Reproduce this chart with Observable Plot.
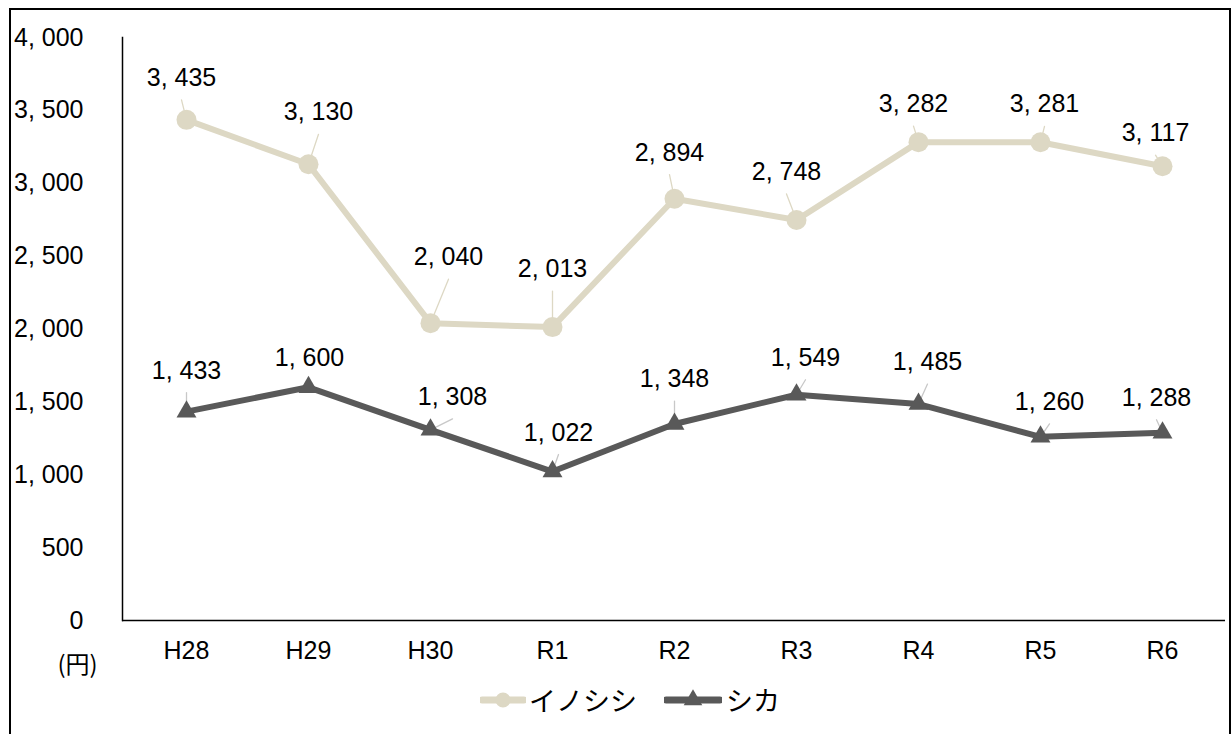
<!DOCTYPE html>
<html>
<head>
<meta charset="utf-8">
<script src="https://cdn.jsdelivr.net/npm/d3@7"></script>
<script src="https://cdn.jsdelivr.net/npm/@observablehq/plot@0.6"></script>
<style>
  body { margin: 0; background: #fff; }
  #wrap { position: relative; width: 1232px; height: 734px; overflow: hidden; background: #fff;
          font-family: "Liberation Sans", Arial, sans-serif; }
  #border { position: absolute; left: 9px; top: 8px; width: 1222px; height: 800px; border: 2px solid #000; box-sizing: border-box; pointer-events: none; }
  #chart { position: absolute; left: 0; top: 0; }
  .lg { position: absolute; }
  .lgtext { position: absolute; top: 683px; font-family: "Noto Sans CJK JP", sans-serif; font-size: 27px; line-height: 34px; color: #000; }
</style>
</head>
<body>
<div id="wrap">
  <div id="chart"></div>
  <div id="legend"></div>
  <div id="border"></div>
</div>
<script>
// ---- data ----
const categories = ["H28", "H29", "H30", "R1", "R2", "R3", "R4", "R5", "R6"];
const seriesNames = ["イノシシ", "シカ"];
const inoshishi = [3435, 3130, 2040, 2013, 2894, 2748, 3282, 3281, 3117];
const shika = [1433, 1600, 1308, 1022, 1348, 1549, 1485, 1260, 1288];
const yTicks = [0, 500, 1000, 1500, 2000, 2500, 3000, 3500, 4000];
const unitLabel = "(円)";

// ---- label layout (pixel offsets of each data label from its point) ----
const inoLabelDx = [-5, 10, 18, 0, -5, -10, -5, 4, -7];
const inoLabelDy = [-42, -52, -66, -58, -46, -48, -38, -38, -33];
const shikaLabelDx = [0, 1, 22, 6, 0, 9, 9, 9, -6];
const shikaLabelDy = [-41, -29, -33, -39, -45, -37, -42, -35, -35];

// ---- styles ----
const inoColor = "#DDD8C4";
const shikaColor = "#595959";
const fontNum = '"Liberation Sans", Arial, sans-serif';
const numSize = 25;

const fmt = v => d3.format(",")(v).replace(",", ", ");

const rows = [];
categories.forEach((c, i) => {
  rows.push({cat: c, series: seriesNames[0], value: inoshishi[i], i});
  rows.push({cat: c, series: seriesNames[1], value: shika[i], i});
});
const inoRows = rows.filter(d => d.series === seriesNames[0]);
const shikaRows = rows.filter(d => d.series === seriesNames[1]);

const lineShape = { draw(context, l) { context.moveTo(0, 0); context.lineTo(0, -l); } };

function labelMarks(data, dxs, dys, leaderColor) {
  const marks = [];
  data.forEach((d, i) => {
    const ly = dys[i] + 22;
    const lx = dxs[i];
    if (ly < -8) {
      marks.push(Plot.vector([d], {
        x: "cat", y: "value", anchor: "start",
        length: Math.hypot(lx, ly),
        rotate: Math.atan2(lx, -ly) * 180 / Math.PI,
        shape: lineShape, stroke: leaderColor, strokeWidth: 1.3
      }));
    }
  });
  return marks;
}
function textMarks(data, dxs, dys) {
  return data.map((d, i) => Plot.text([d], {
    x: "cat", y: "value", text: d => fmt(d.value),
    dx: dxs[i], dy: dys[i], fill: "#000", fontSize: numSize
  }));
}

const chart = Plot.plot({
  width: 1232,
  height: 680,
  marginLeft: 122,
  marginRight: 7,
  marginTop: 37,
  marginBottom: 60,
  style: { fontFamily: fontNum, fontSize: numSize + "px", color: "#000", background: "transparent", overflow: "visible" },
  x: { type: "band", domain: categories, padding: 0, label: null },
  y: { domain: [0, 4000], label: null },
  marks: [
    Plot.axisX({ tickSize: 0, tickPadding: 21, fontSize: numSize, label: null }),
    Plot.axisY({ ticks: yTicks, tickSize: 0, tickPadding: 39, tickFormat: fmt, fontSize: numSize, label: null }),
    Plot.frame({ anchor: "left", stroke: "#000", strokeWidth: 1.5 }),
    Plot.ruleY([0], { stroke: "#000", strokeWidth: 1.5 }),
    Plot.text([unitLabel], { frameAnchor: "bottom-left", textAnchor: "middle", lineAnchor: "middle", dx: -45, dy: 45, fontSize: 24, fontFamily: '"Noto Sans CJK JP", sans-serif', fill: "#000" }),
    ...labelMarks(inoRows, inoLabelDx, inoLabelDy, "#DDD8C4"),
    ...labelMarks(shikaRows, shikaLabelDx, shikaLabelDy, "#C8C8C8"),
    Plot.line(inoRows, { x: "cat", y: "value", stroke: inoColor, strokeWidth: 6, strokeLinejoin: "round", strokeLinecap: "round" }),
    Plot.line(shikaRows, { x: "cat", y: "value", stroke: shikaColor, strokeWidth: 6, strokeLinejoin: "round", strokeLinecap: "round" }),
    Plot.dot(inoRows, { x: "cat", y: "value", symbol: "circle", r: 10, fill: inoColor, stroke: null }),
    Plot.dot(shikaRows, { x: "cat", y: "value", symbol: "triangle", r: 7.4, fill: shikaColor, stroke: null }),
    ...textMarks(inoRows, inoLabelDx, inoLabelDy),
    ...textMarks(shikaRows, shikaLabelDx, shikaLabelDy)
  ]
});
document.getElementById("chart").appendChild(chart);

// ---- legend (HTML below the SVG) ----
const legend = document.getElementById("legend");
const ns = "http://www.w3.org/2000/svg";
function swatch(left, width, color, symbol) {
  const s = document.createElementNS(ns, "svg");
  s.setAttribute("width", width); s.setAttribute("height", 24);
  s.setAttribute("class", "lg");
  s.style.left = left + "px"; s.style.top = "688px";
  const ln = document.createElementNS(ns, "line");
  ln.setAttribute("x1", 2); ln.setAttribute("x2", width - 2);
  ln.setAttribute("y1", 12); ln.setAttribute("y2", 12);
  ln.setAttribute("stroke", color); ln.setAttribute("stroke-width", 7);
  ln.setAttribute("stroke-linecap", "round");
  s.appendChild(ln);
  const p = document.createElementNS(ns, "path");
  const sym = symbol === "circle" ? d3.symbolCircle : d3.symbolTriangle;
  p.setAttribute("d", d3.symbol(sym, symbol === "circle" ? 180 : 150)());
  p.setAttribute("transform", `translate(${width / 2},12)`);
  p.setAttribute("fill", color);
  s.appendChild(p);
  legend.appendChild(s);
}
function ltext(left, t) {
  const d = document.createElement("div");
  d.className = "lgtext"; d.style.left = left + "px"; d.textContent = t;
  legend.appendChild(d);
}
swatch(480, 46, inoColor, "circle");
ltext(529, seriesNames[0]);
swatch(664, 58, shikaColor, "triangle");
ltext(726, seriesNames[1]);
</script>
</body>
</html>
